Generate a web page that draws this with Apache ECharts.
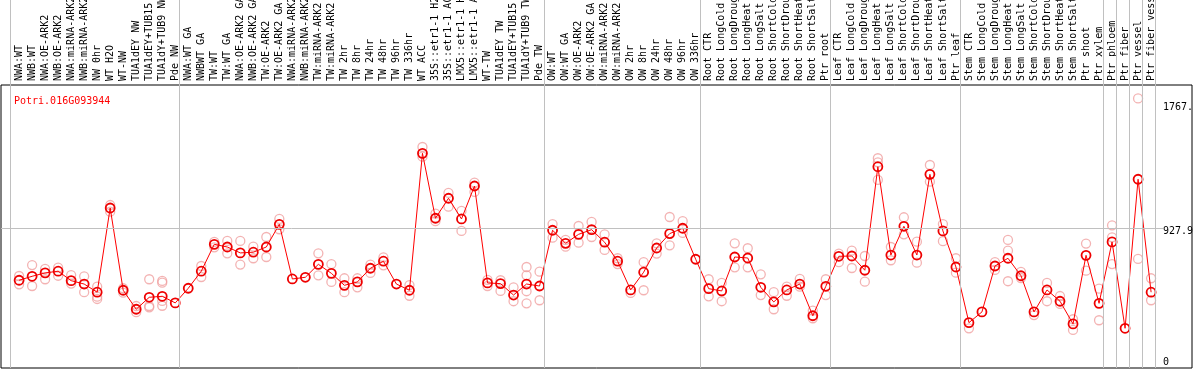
<!DOCTYPE html>
<html><head><meta charset="utf-8">
<script src="https://cdn.jsdelivr.net/npm/echarts@6/dist/echarts.min.js"></script>
<style>html,body{margin:0;padding:0;background:#fff}#c{width:1194px;height:370px}</style>
</head><body><div id="c"></div>
<script>
const geneTitle = 'Potri.016G093944';
const categories = [
 'NWA:WT','NWB:WT','NWA:OE-ARK2','NWB:OE-ARK2','NWA:miRNA-ARK2','NWB:miRNA-ARK2','NW 0hr','WT H2O','WT-NW','TUA1dEY NW','TUA1dEY+TUB15','TUA1dY+TUB9 NW','Pde NW',
 'NWA:WT GA','NWBWT GA','TW:WT','TW:WT GA','NWA:OE-ARK2 GA','NWB:OE-ARK2 GA','TW:OE-ARK2','TW:OE-ARK2 GA','NWA:miRNA-ARK2','NWB:miRNA-ARK2','TW:miRNA-ARK2','TW:miRNA-ARK2','TW 2hr','TW 8hr','TW 24hr','TW 48hr','TW 96hr','TW 336hr','WT ACC','35S::etr1-1 H2O','35S::etr1-1 ACC','LMX5::etr1-1 H2O','LMX5::etr1-1 ACC','WT-TW','TUA1dEY TW','TUA1dEY+TUB15','TUA1dY+TUB9 TW','Pde TW',
 'OW:WT','OW:WT GA','OW:OE-ARK2','OW:OE-ARK2 GA','OW:miRNA-ARK2','OW:miRNA-ARK2','OW 2hr','OW 8hr','OW 24hr','OW 48hr','OW 96hr','OW 336hr',
 'Root CTR','Root LongCold','Root LongDrought','Root LongHeat','Root LongSalt','Root ShortCold','Root ShortDrought','Root ShortHeat','Root ShortSalt','Ptr root',
 'Leaf CTR','Leaf LongCold','Leaf LongDrought','Leaf LongHeat','Leaf LongSalt','Leaf ShortCold','Leaf ShortDrought','Leaf ShortHeat','Leaf ShortSalt','Ptr leaf',
 'Stem CTR','Stem LongCold','Stem LongDrought','Stem LongHeat','Stem LongSalt','Stem ShortCold','Stem ShortDrought','Stem ShortHeat','Stem ShortSalt','Ptr shoot','Ptr xylem',
 'Ptr phloem','Ptr fiber','Ptr vessel','Ptr fiber vessel'
];
const groupBounds = [0,13,41,53,63,73,84,85,86,87,88];
const means = [559,587,611,623,556,532,474,1072,488,353,438,445,398,502,623,814,795,753,758,795,956,568,580,672,608,523,547,644,694,532,488,1460,999,1141,994,1228,540,535,454,532,518,914,821,885,918,829,694,490,616,788,890,928,708,499,483,724,717,509,405,490,532,307,516,729,731,630,1365,738,942,738,1311,909,653,258,334,660,715,591,334,490,410,249,736,395,831,218,1276,474];
const replicates = [
 [589,530],[667,518],[639,566],[648,591],[596,535],[587,474],[513,442,426],[1093,1046],[502,471],[376,332],[566,376,367],[554,542,412,378],[],
 [],[660,582],[831,793],[838,750],[838,670],[797,715],[866,724],[994,921],[],[],[750,594],[674,547],[573,474],[573,509],[670,611],[722,665],[],[525,449],[1505,1436],[1032,978],[1179,1081],[1051,909],[1252,1186],[561,518],[559,483],[509,410],[653,594,481,395],[620,417],
 [958,861],[845,797],[944,826],[973,866],[885,774],[715,674],[469],[687,488],[821,748],[1008,807],[978,895],[],
 [566,445],[540,410],[821,651],[786,651],[601,454],[474,353],[513,449],[568,513],[343,289],[566,454],
 [748,687],[769,646],[731,549],[1425,1396,1271],[795,701],[1006,885],[833,684],[1377,1259],[958,836],[715,613],
 [218],[],[687,632],[845,769,552],[618,575],[312],[540,410],[447,391],[282,206],[819,627],[499,275],
 [949,864,674],[],[1850,710],[573,417]
];
const yTickValues = [0, 927.9, 1767];
const yTickLabels = ['0', '927.9', '1767.'];
const yMin = -64, yMax = 1945;

const FONT = 'DejaVu Sans Mono';
const repPoints = [];
replicates.forEach((arr, i) => arr.forEach(v => repPoints.push([i, v])));

const chart = echarts.init(document.getElementById('c'), null, {renderer: 'canvas'});
const gridBase = {outerBoundsMode: 'none', containLabel: false};
chart.setOption({
  animation: false,
  backgroundColor: '#fff',
  title: {text: geneTitle, left: 9, top: 91, textStyle: {color: '#ff0000', fontFamily: FONT, fontSize: 10, fontWeight: 'normal'}},
  grid: [
    Object.assign({left: 10.5, width: 1145, top: 0, bottom: 2}, gridBase),
    Object.assign({left: 12.6, width: 1145, top: 85, bottom: 2}, gridBase),
    Object.assign({left: 1, right: 31, top: 85, bottom: 2}, gridBase),
    Object.assign({left: 1, right: 2, top: 85, bottom: 2, show: true, borderColor: '#000', borderWidth: 1, backgroundColor: 'transparent'}, gridBase)
  ],
  xAxis: [
    {gridIndex: 0, type: 'value', min: 0, max: 88, show: false},
    {gridIndex: 1, type: 'category', data: categories, position: 'top', boundaryGap: true,
     axisLine: {show: false}, axisTick: {show: false}, splitLine: {show: false},
     axisLabel: {interval: 0, rotate: 90, margin: 4, hideOverlap: false, fontFamily: FONT, fontSize: 10, color: '#000'}},
    {gridIndex: 2, type: 'value', min: 0, max: 1, show: false},
    {gridIndex: 3, type: 'value', min: 0, max: 1, show: false}
  ],
  yAxis: [
    {gridIndex: 0, type: 'value', min: 0, max: 1, show: false},
    {gridIndex: 1, type: 'value', min: yMin, max: yMax, show: false},
    {gridIndex: 2, type: 'value', min: yMin, max: yMax, position: 'right',
     axisLine: {show: false}, axisTick: {show: false}, splitLine: {show: false},
     axisLabel: {customValues: yTickValues, margin: 0, verticalAlign: 'middle', fontFamily: FONT, fontSize: 10, color: '#000',
       formatter: function (v) {
         const idx = yTickValues.indexOf(v);
         const t = idx >= 0 ? yTickLabels[idx] : '';
         return v === yTickValues[yTickValues.length - 1] ? '{u|' + t + '}' : '{d|' + t + '}';
       },
       rich: {u: {padding: [0, 0, 6, 0], fontFamily: FONT, fontSize: 10, color: '#000'},
              d: {padding: [7, 0, 0, 0], fontFamily: FONT, fontSize: 10, color: '#000'}}}},
    {gridIndex: 3, type: 'value', min: 0, max: 1, show: false}
  ],
  series: [
    {type: 'line', xAxisIndex: 0, yAxisIndex: 0, data: [], silent: true,
     markLine: {silent: true, symbol: 'none', label: {show: false}, animation: false,
       lineStyle: {color: '#c0c0c0', width: 1, type: 'solid'},
       emphasis: {disabled: true},
       data: groupBounds.map(b => ({xAxis: b}))}},
    {type: 'line', xAxisIndex: 2, yAxisIndex: 2, data: [], silent: true,
     markLine: {silent: true, symbol: 'none', label: {show: false}, animation: false,
       lineStyle: {color: '#c0c0c0', width: 1, type: 'solid'},
       emphasis: {disabled: true},
       data: [{yAxis: yTickValues[1]}]}},
    {type: 'scatter', xAxisIndex: 1, yAxisIndex: 1, data: repPoints, symbol: 'circle', symbolSize: 9, silent: true,
     itemStyle: {color: 'transparent', borderColor: '#f0a0a0', borderWidth: 1.3}},
    {type: 'line', xAxisIndex: 1, yAxisIndex: 1, data: means, symbol: 'circle', symbolSize: 9, showAllSymbol: true, silent: true,
     lineStyle: {color: '#ff0000', width: 1},
     itemStyle: {color: 'transparent', borderColor: '#ee0000', borderWidth: 1.8}}
  ]
});
</script></body></html>
